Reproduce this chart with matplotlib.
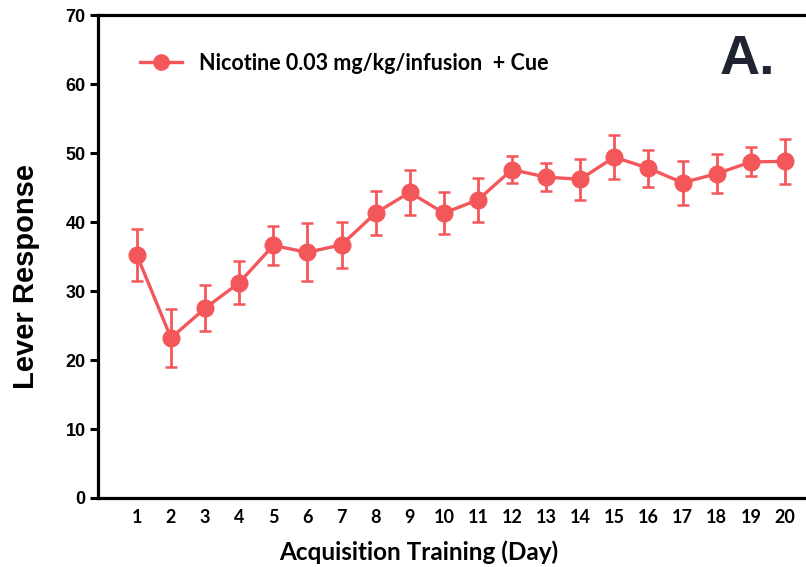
import numpy as np
import matplotlib
matplotlib.use('Agg')
import matplotlib.pyplot as plt
from matplotlib.lines import Line2D

# acquisition days and lever responses (mean +/- sem)
days = list(range(1, 21))
response = [35.2, 23.2, 27.5, 31.2, 36.6, 35.6, 36.7, 41.3, 44.3, 41.3,
            43.2, 47.6, 46.5, 46.2, 49.4, 47.8, 45.7, 47.0, 48.7, 48.8]
sem = [3.8, 4.2, 3.3, 3.1, 2.8, 4.2, 3.3, 3.2, 3.3, 3.1,
       3.2, 2.0, 2.0, 3.0, 3.2, 2.7, 3.2, 2.8, 2.1, 3.3]
yticks = [0, 10, 20, 30, 40, 50, 60, 70]

red = '#F4575A'
navy = '#1F2430'

fig = plt.figure(figsize=(8.06, 5.67), dpi=100)
ax = fig.add_axes([0.1216, 0.1217, 0.8784, 0.8518])

ax.errorbar(days, response, yerr=sem, color=red, marker='o', markersize=12,
            linewidth=2.4, elinewidth=2.0, capsize=4.5, capthick=1.8, zorder=3)

ax.set_xlim(-0.14, 20.62)
ax.set_ylim(0, 70)
ax.set_yticks(yticks)
ax.set_xticks(days)

for s in ['left', 'bottom', 'top']:
    ax.spines[s].set_linewidth(2.3)
ax.spines['right'].set_visible(False)

ax.tick_params(axis='y', direction='out', length=6, width=2.2, pad=3)
ax.tick_params(axis='x', length=0, pad=8)
for t in ax.get_yticklabels():
    t.set_fontfamily('Liberation Sans')
    t.set_fontweight('bold')
    t.set_fontsize(13)
for t in ax.get_xticklabels():
    t.set_fontfamily('Lato')
    t.set_fontweight('bold')
    t.set_fontsize(13)

ax.set_ylabel('Lever Response', fontfamily='Liberation Sans', fontweight='bold',
              fontsize=21)
ax.yaxis.set_label_coords(-0.082, 0.458)
ax.set_xlabel('Acquisition Training (Day)', fontfamily='Lato', fontweight='bold',
              fontsize=17.5)
ax.xaxis.set_label_coords(0.453, -0.087)

handle = Line2D([], [], color=red, marker='o', markersize=11, linewidth=2.4)
ax.legend([handle], ['Nicotine 0.03 mg/kg/infusion  + Cue'], loc='center left',
          bbox_to_anchor=(0.059, 0.90), frameon=False,
          prop={'family': 'Lato', 'weight': 'bold', 'size': 15.5},
          handlelength=1.95, handletextpad=0.8, borderaxespad=0, borderpad=0)

ax.text(0.956, 0.96, 'A.', transform=ax.transAxes, ha='right', va='top',
        fontfamily='Liberation Sans', fontweight='bold', fontsize=40, color=navy)

fig.savefig('out.png', dpi=100)
